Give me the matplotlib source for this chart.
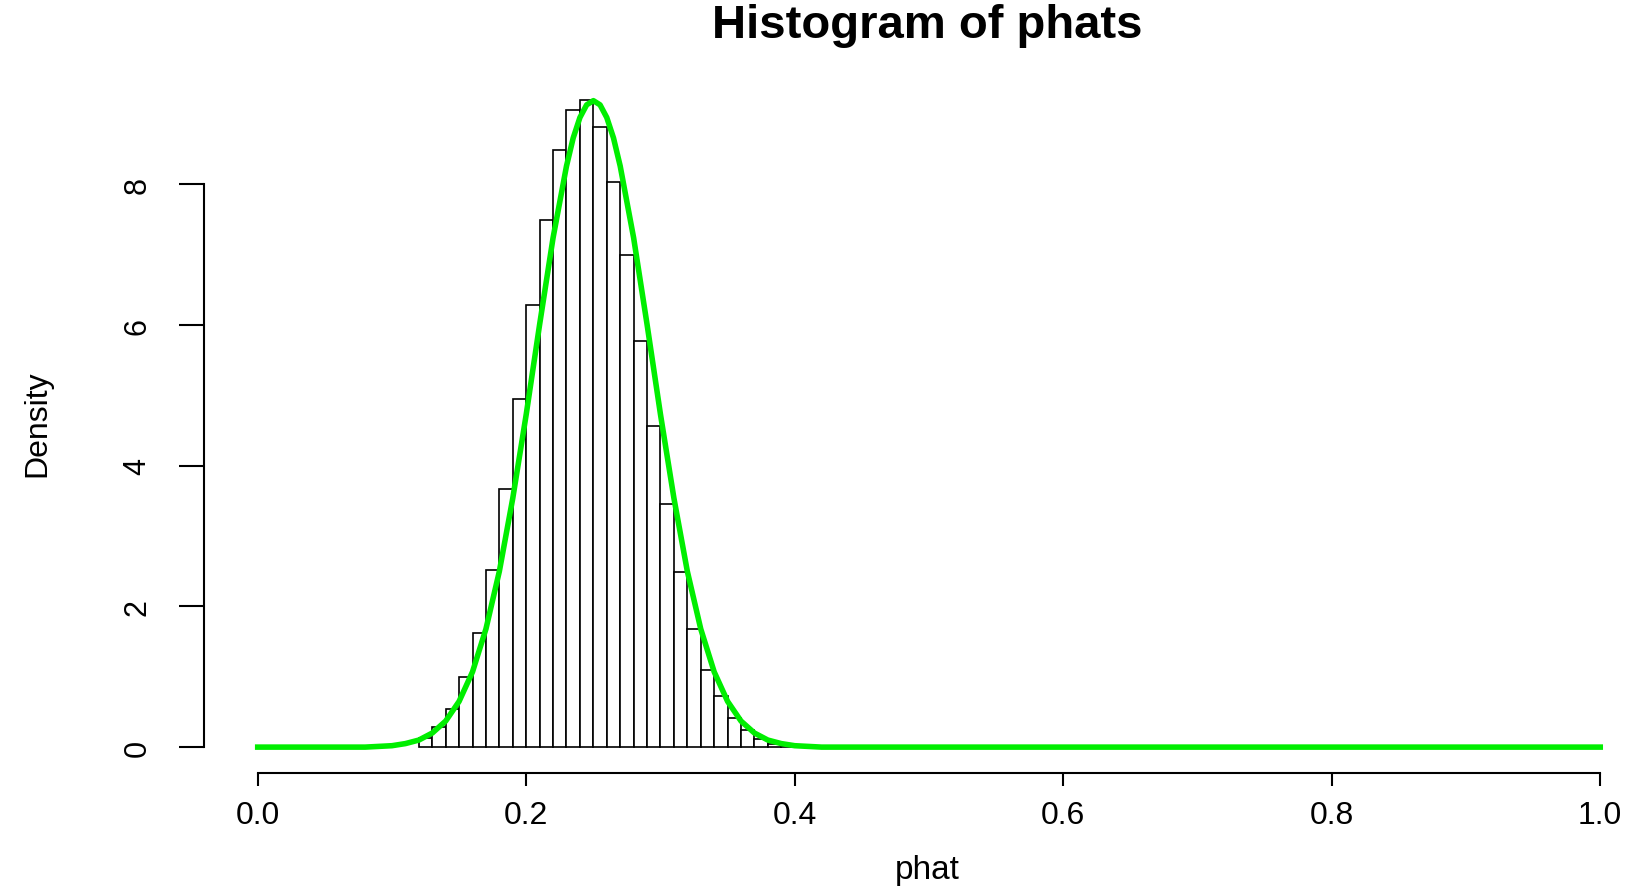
import numpy as np
import matplotlib.pyplot as plt

# histogram bins (left edges, width 0.01) and densities
bin_left = [0.12, 0.13, 0.14, 0.15, 0.16, 0.17, 0.18, 0.19, 0.20, 0.21,
            0.22, 0.23, 0.24, 0.25, 0.26, 0.27, 0.28, 0.29, 0.30, 0.31,
            0.32, 0.33, 0.34, 0.35, 0.36, 0.37, 0.38, 0.39]
density = [0.13, 0.28, 0.54, 0.99, 1.62, 2.52, 3.67, 4.95, 6.28, 7.50,
           8.49, 9.06, 9.20, 8.81, 8.04, 6.99, 5.77, 4.57, 3.46, 2.49,
           1.68, 1.09, 0.72, 0.42, 0.25, 0.12, 0.05, 0.02]
bin_width = 0.01

# green density curve
curve_x = [0.0, 0.05, 0.08, 0.09, 0.10, 0.11, 0.12, 0.13, 0.14, 0.15, 0.16,
           0.17, 0.18, 0.19, 0.20, 0.21, 0.22, 0.23, 0.235, 0.24, 0.245, 0.25,
           0.255, 0.26, 0.265, 0.27, 0.28, 0.29, 0.30, 0.31, 0.32, 0.33, 0.34,
           0.35, 0.36, 0.37, 0.38, 0.39, 0.40, 0.41, 0.42, 0.45, 0.5, 1.0]
curve_y = [0.0, 0.0, 0.0, 0.01, 0.02, 0.05, 0.10, 0.20, 0.37, 0.65, 1.07,
           1.68, 2.50, 3.54, 4.73, 6.01, 7.24, 8.26, 8.66, 8.95, 9.13, 9.19,
           9.13, 8.95, 8.66, 8.26, 7.24, 6.01, 4.73, 3.54, 2.50, 1.68, 1.07,
           0.65, 0.37, 0.20, 0.10, 0.05, 0.02, 0.01, 0.0, 0.0, 0.0, 0.0]

x_ticks = [0.0, 0.2, 0.4, 0.6, 0.8, 1.0]
y_ticks = [0, 2, 4, 6, 8]

plt.rcParams['font.family'] = ['Liberation Sans', 'DejaVu Sans']

fig = plt.figure(figsize=(16.4, 8.87), dpi=100)
ax = fig.add_axes([0.1244, 0.1274, 0.8841, 0.788])

ax.bar(bin_left, density, width=bin_width, align='edge',
       color='white', edgecolor='black', linewidth=1.2)
ax.plot(curve_x, curve_y, color='#00ee00', linewidth=4.0)

ax.set_xlim(-0.04, 1.04)
ax.set_ylim(-0.368, 9.568)

# R style axes: only the tick range is drawn, no box
for side in ['top', 'right']:
    ax.spines[side].set_visible(False)
ax.spines['bottom'].set_bounds(0, 1)
ax.spines['left'].set_bounds(0, 8)
ax.spines['bottom'].set_linewidth(1.5)
ax.spines['left'].set_linewidth(1.5)

ax.set_xticks(x_ticks)
ax.set_xticklabels([f'{v:.1f}' for v in x_ticks])
ax.set_yticks(y_ticks)
ax.set_yticklabels([str(v) for v in y_ticks], rotation=90, va='center')
ax.tick_params(axis='x', length=9.5, width=1.5, pad=10, labelsize=23)
ax.tick_params(axis='y', length=18, width=1.5, pad=19, labelsize=22)

fig.text(0.5655, 0.971, 'Histogram of phats', ha='center', va='center',
         fontsize=34, fontweight='bold')
fig.text(0.5655, 0.019, 'phat', ha='center', va='center', fontsize=24)
fig.text(0.0226, 0.522, 'Density', ha='center', va='center', fontsize=23,
         rotation=90)

plt.savefig('out.png', dpi=100)
